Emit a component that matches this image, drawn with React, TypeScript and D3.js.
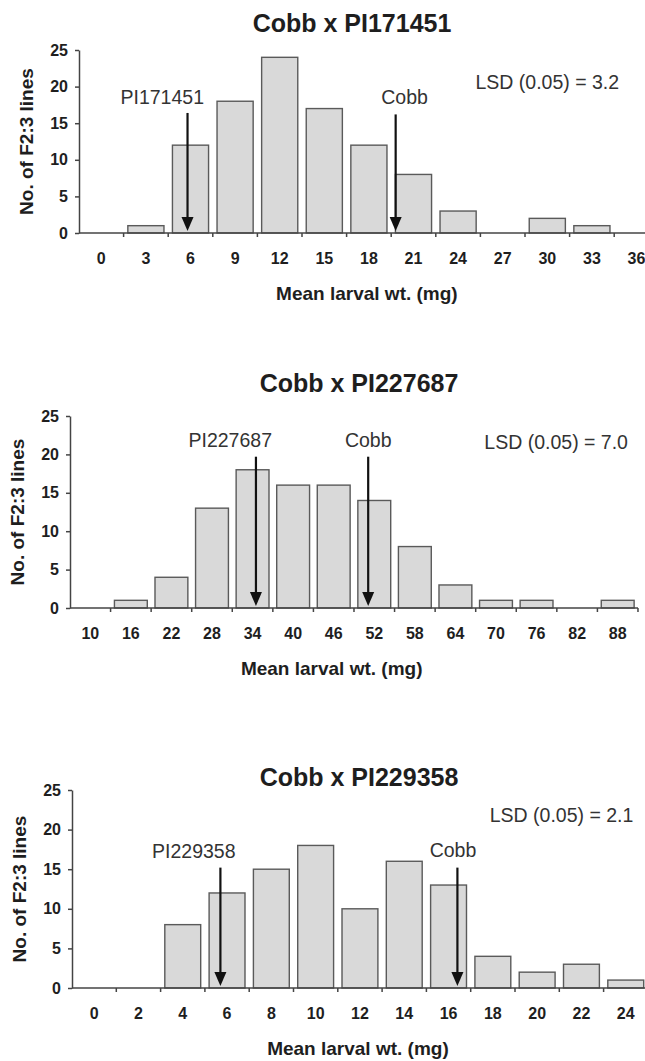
import React, { useEffect, useRef } from 'react';
import * as d3 from 'd3';

const WIDTH = 645;
const HEIGHT = 1061;

// Cobb x PI171451
const cats171451 = [0, 3, 6, 9, 12, 15, 18, 21, 24, 27, 30, 33, 36];
const counts171451 = [0, 1, 12, 18, 24, 17, 12, 8, 3, 0, 2, 1, 0];
// Cobb x PI227687
const cats227687 = [10, 16, 22, 28, 34, 40, 46, 52, 58, 64, 70, 76, 82, 88];
const counts227687 = [0, 1, 4, 13, 18, 16, 16, 14, 8, 3, 1, 1, 0, 1];
// Cobb x PI229358
const cats229358 = [0, 2, 4, 6, 8, 10, 12, 14, 16, 18, 20, 22, 24];
const counts229358 = [0, 0, 8, 12, 15, 18, 10, 16, 13, 4, 2, 3, 1];

const yTicks = [0, 5, 10, 15, 20, 25];

// parent means (mg) marked with arrows; label spots in data units
const arrows171451 = [
  { name: 'PI171451', x: 5.8, top: 16.4, labelX: 4.1, labelY: 18.6 },
  { name: 'Cobb', x: 19.8, top: 16.2, labelX: 20.4, labelY: 18.6 },
];
const arrows227687 = [
  { name: 'PI227687', x: 34.5, top: 19.7, labelX: 30.7, labelY: 21.9 },
  { name: 'Cobb', x: 51.1, top: 19.7, labelX: 51.1, labelY: 21.9 },
];
const arrows229358 = [
  { name: 'PI229358', x: 5.7, top: 15.2, labelX: 4.5, labelY: 17.3 },
  { name: 'Cobb', x: 16.4, top: 15.2, labelX: 16.2, labelY: 17.4 },
];

const panels = [
  {
    title: 'Cobb x PI171451', cats: cats171451, counts: counts171451, arrows: arrows171451,
    lsd: 'LSD (0.05) = 3.2', lsdX: 30.0, lsdY: 20.6,
    left: 79, step: 44.6, top: 50, bottom: 233, titleX: 352, titleY: 23,
  },
  {
    title: 'Cobb x PI227687', cats: cats227687, counts: counts227687, arrows: arrows227687,
    lsd: 'LSD (0.05) = 7.0', lsdX: 78.9, lsdY: 21.6,
    left: 70, step: 40.57, top: 416, bottom: 608, titleX: 359, titleY: 383,
  },
  {
    title: 'Cobb x PI229358', cats: cats229358, counts: counts229358, arrows: arrows229358,
    lsd: 'LSD (0.05) = 2.1', lsdX: 21.1, lsdY: 21.8,
    left: 72, step: 44.3, top: 790, bottom: 988, titleX: 359, titleY: 777,
  },
];

const FONT = '"Liberation Sans", Arial, Helvetica, sans-serif';
const INK = '#1e1e1e';

function drawPanel(svg, p) {
  const n = p.cats.length;
  const g = svg.append('g');

  const x = d3
    .scaleBand()
    .domain(p.cats)
    .range([p.left, p.left + p.step * n])
    .paddingInner(0.19)
    .paddingOuter(0.095);
  const bw = x.bandwidth();
  const gap = (x.step() - bw) / 2;
  // value (mg) -> pixel, through band centres
  const xv = d3
    .scaleLinear()
    .domain([p.cats[0], p.cats[n - 1]])
    .range([x(p.cats[0]) + bw / 2, x(p.cats[n - 1]) + bw / 2]);
  const y = d3.scaleLinear().domain([0, 25]).range([p.bottom, p.top]);

  // bars
  g.selectAll('rect.bar')
    .data(p.cats.map((c, i) => ({ c, v: p.counts[i] })).filter((d) => d.v > 0))
    .enter()
    .append('rect')
    .attr('class', 'bar')
    .attr('x', (d) => x(d.c))
    .attr('y', (d) => y(d.v))
    .attr('width', bw)
    .attr('height', (d) => y(0) - y(d.v))
    .attr('fill', '#d9d9d9')
    .attr('stroke', '#5a5a5a')
    .attr('stroke-width', 1.4);

  // y axis
  const axisY = d3.axisLeft(y).tickValues(yTicks).tickSize(4).tickSizeOuter(0).tickPadding(7);
  const yG = g.append('g').attr('transform', `translate(${p.left},0)`).call(axisY);
  yG.select('.domain').attr('stroke', '#444').attr('stroke-width', 1.5);
  yG.selectAll('line').attr('stroke', '#444').attr('stroke-width', 1.5);
  yG.selectAll('text')
    .attr('font-family', FONT)
    .attr('font-weight', 'bold')
    .attr('font-size', 16)
    .attr('fill', INK);

  // x axis: labels under bars, ticks on bin edges
  const axisX = d3.axisBottom(x).tickSize(0).tickPadding(20);
  const xG = g.append('g').attr('transform', `translate(0,${p.bottom})`).call(axisX);
  xG.select('.domain').remove();
  xG.selectAll('text')
    .attr('font-family', FONT)
    .attr('font-weight', 'bold')
    .attr('font-size', 16)
    .attr('fill', INK);
  g.append('line')
    .attr('x1', p.left)
    .attr('x2', p.left + p.step * n)
    .attr('y1', p.bottom)
    .attr('y2', p.bottom)
    .attr('stroke', '#444')
    .attr('stroke-width', 1.5);
  const edges = p.cats.map((c) => x(c) + bw + gap);
  g.selectAll('line.edge')
    .data(edges)
    .enter()
    .append('line')
    .attr('class', 'edge')
    .attr('x1', (d) => d)
    .attr('x2', (d) => d)
    .attr('y1', p.bottom)
    .attr('y2', p.bottom + 4)
    .attr('stroke', '#444')
    .attr('stroke-width', 1.5);

  // titles
  g.append('text')
    .attr('x', p.titleX)
    .attr('y', p.titleY)
    .attr('dy', '0.35em')
    .attr('text-anchor', 'middle')
    .attr('font-family', FONT)
    .attr('font-weight', 'bold')
    .attr('font-size', 25)
    .attr('fill', INK)
    .text(p.title);
  g.append('text')
    .attr('x', (p.left + p.left + p.step * 13) / 2 - 2)
    .attr('y', p.bottom + 60)
    .attr('dy', '0.35em')
    .attr('text-anchor', 'middle')
    .attr('font-family', FONT)
    .attr('font-weight', 'bold')
    .attr('font-size', 19)
    .attr('fill', INK)
    .text('Mean larval wt. (mg)');
  g.append('text')
    .attr('transform', `translate(${p.left - 53},${(p.top + p.bottom) / 2}) rotate(-90)`)
    .attr('dy', '0.35em')
    .attr('text-anchor', 'middle')
    .attr('font-family', FONT)
    .attr('font-weight', 'bold')
    .attr('font-size', 19)
    .attr('fill', INK)
    .text('No. of F2:3 lines');

  // LSD note
  g.append('text')
    .attr('x', xv(p.lsdX))
    .attr('y', y(p.lsdY))
    .attr('dy', '0.35em')
    .attr('text-anchor', 'middle')
    .attr('font-family', FONT)
    .attr('font-size', 19.5)
    .attr('fill', '#333')
    .text(p.lsd);

  // parent arrows
  p.arrows.forEach((a) => {
    const ax = xv(a.x);
    const tip = y(0) - 2;
    g.append('line')
      .attr('x1', ax)
      .attr('x2', ax)
      .attr('y1', y(a.top))
      .attr('y2', tip - 12)
      .attr('stroke', '#111')
      .attr('stroke-width', 2.2);
    g.append('path')
      .attr('d', `M${ax - 6},${tip - 14}L${ax + 6},${tip - 14}L${ax},${tip}Z`)
      .attr('fill', '#111');
    g.append('text')
      .attr('x', xv(a.labelX))
      .attr('y', y(a.labelY))
      .attr('dy', '0.35em')
      .attr('text-anchor', 'middle')
      .attr('font-family', FONT)
      .attr('font-size', 19.5)
      .attr('fill', '#333')
      .text(a.name);
  });
}

export default function App() {
  const ref = useRef(null);

  useEffect(() => {
    const svg = d3.select(ref.current);
    svg.selectAll('*').remove();
    svg.append('rect').attr('width', WIDTH).attr('height', HEIGHT).attr('fill', '#ffffff');
    panels.forEach((p) => drawPanel(svg, p));
  }, []);

  return (
    <svg
      ref={ref}
      width={WIDTH}
      height={HEIGHT}
      style={{ position: 'absolute', left: 0, top: 0, display: 'block' }}
    />
  );
}
